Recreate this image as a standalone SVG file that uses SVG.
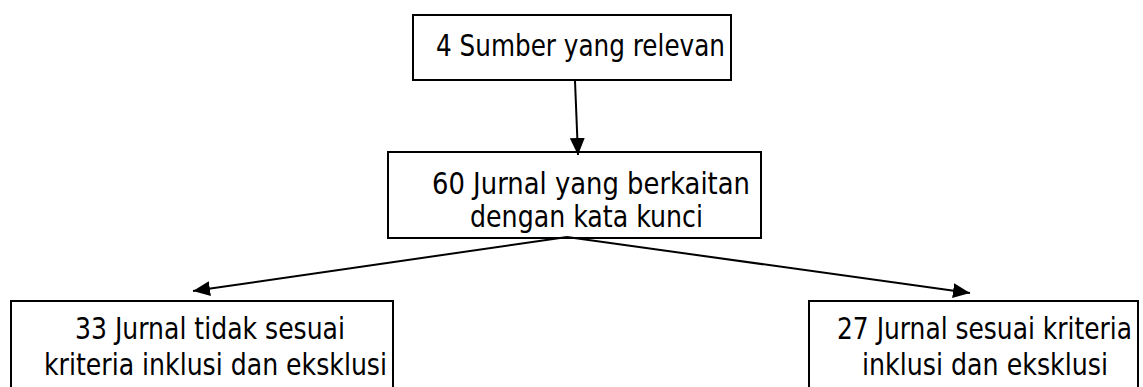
<svg xmlns="http://www.w3.org/2000/svg" width="1143" height="387" viewBox="0 0 1143 387">
<style>
.box{fill:#fff;stroke:#000;stroke-width:2}
.lbl{font-family:"DejaVu Sans Condensed","DejaVu Sans",sans-serif;font-stretch:condensed;font-size:30px;fill:#000}
.conn{stroke:#000;stroke-width:2;fill:none}
</style>
<defs>
<marker id="ah" markerUnits="userSpaceOnUse" markerWidth="18" markerHeight="18" viewBox="0 0 18 18" refX="17" refY="9" orient="auto">
<path d="M0,1.5 L17,9 L0,16.5 Z" fill="#000"/>
</marker>
</defs>
<rect width="1143" height="387" fill="#fff"/>
<g id="n1">
<rect class="box" x="413" y="15" width="318" height="65"/>
<text class="lbl" x="436" y="56" textLength="289" lengthAdjust="spacingAndGlyphs">4 Sumber yang relevan</text>
</g>
<g id="n2">
<rect class="box" x="388" y="152" width="373" height="86"/>
<text class="lbl" x="432" y="194" textLength="318" lengthAdjust="spacingAndGlyphs">60 Jurnal yang berkaitan</text>
<text class="lbl" x="470" y="227" textLength="233" lengthAdjust="spacingAndGlyphs">dengan kata kunci</text>
</g>
<g id="n3">
<rect class="box" x="11" y="301" width="382" height="100"/>
<text class="lbl" x="75" y="339" textLength="270" lengthAdjust="spacingAndGlyphs">33 Jurnal tidak sesuai</text>
<text class="lbl" x="44" y="375" textLength="343" lengthAdjust="spacingAndGlyphs">kriteria inklusi dan eksklusi</text>
</g>
<g id="n4">
<rect class="box" x="809" y="301" width="329" height="100"/>
<text class="lbl" x="837" y="339" textLength="295" lengthAdjust="spacingAndGlyphs">27 Jurnal sesuai kriteria</text>
<text class="lbl" x="862" y="375" textLength="246" lengthAdjust="spacingAndGlyphs">inklusi dan eksklusi</text>
</g>
<g id="connectors">
<line class="conn" x1="575" y1="81" x2="578" y2="155" marker-end="url(#ah)"/>
<line class="conn" x1="567" y1="237" x2="193" y2="291" marker-end="url(#ah)"/>
<line class="conn" x1="567" y1="237" x2="970" y2="293" marker-end="url(#ah)"/>
</g>
</svg>
